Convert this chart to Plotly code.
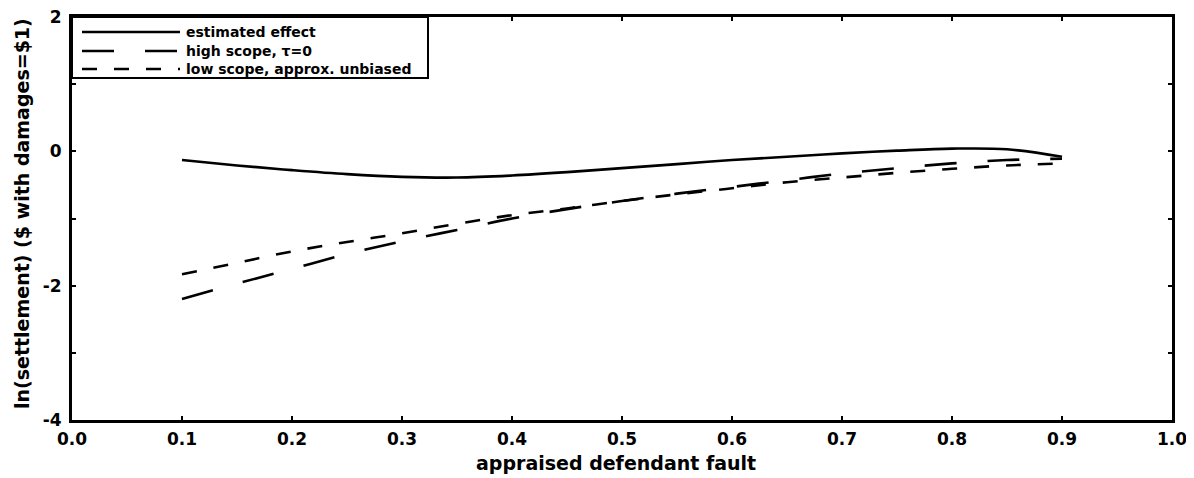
import plotly.graph_objects as go

fault = [0.10, 0.15, 0.20, 0.25, 0.30, 0.35, 0.40, 0.45, 0.50, 0.55, 0.60, 0.65, 0.70, 0.75, 0.80, 0.85, 0.90]
estimated_effect = [-0.13, -0.21, -0.28, -0.34, -0.38, -0.39, -0.36, -0.31, -0.25, -0.19, -0.13, -0.08, -0.03, 0.01, 0.04, 0.03, -0.08]
high_scope = [-2.20, -1.97, -1.75, -1.53, -1.34, -1.17, -1.00, -0.86, -0.74, -0.63, -0.53, -0.43, -0.33, -0.25, -0.18, -0.13, -0.11]
low_scope = [-1.83, -1.66, -1.49, -1.35, -1.22, -1.08, -0.95, -0.85, -0.74, -0.64, -0.55, -0.46, -0.39, -0.32, -0.26, -0.21, -0.18]

series_names = ["estimated effect", "high scope, \u03c4=0", "low scope, approx. unbiased"]
series_dash = ["solid", "32px,31px", "15px,17px"]

x_ticks = [0.0, 0.1, 0.2, 0.3, 0.4, 0.5, 0.6, 0.7, 0.8, 0.9, 1.0]
x_ticktext = ["0.0", "0.1", "0.2", "0.3", "0.4", "0.5", "0.6", "0.7", "0.8", "0.9", "1.0"]
y_ticks = [2, 1, 0, -1, -2, -3, -4]
y_ticktext = ["2", "", "0", "", "-2", "", "-4"]

x_title = "appraised defendant fault"
y_title = "ln(settlement) ($ with damages=$1)"

FONT = "DejaVu Sans"
OFF = 8  # default page body margin
W, H = 1194 - OFF, 478 - OFF
# plot area in page pixels: left 72, right 1172, top 17, bottom 420
L = 72 - OFF
T = 17 - OFF
R = W - (1172 - OFF)
B = H - (420 - OFF)
PW, PH = W - L - R, H - T - B


def px_x(px):
    return (px - OFF - L) / PW


def px_y(py):
    return (H - B - (py - OFF)) / PH


fig = go.Figure()
for name, ys, dash in zip(series_names, [estimated_effect, high_scope, low_scope], series_dash):
    fig.add_trace(go.Scatter(x=fault, y=ys, mode="lines", name=name, showlegend=False,
                             line=dict(color="black", width=2.6, dash=dash, shape="spline")))

# legend drawn manually (box, sample lines, labels)
shapes = [dict(type="rect", xref="paper", yref="paper",
               x0=px_x(72), x1=px_x(428), y0=px_y(78), y1=px_y(17),
               line=dict(color="black", width=2), fillcolor="white", layer="above")]
annotations = []
row_y = [32, 51, 69]
for name, dash, ry in zip(series_names, series_dash, row_y):
    shapes.append(dict(type="line", xref="paper", yref="paper",
                       x0=px_x(82), x1=px_x(180), y0=px_y(ry), y1=px_y(ry),
                       line=dict(color="black", width=2.4, dash=dash), layer="above"))
    annotations.append(dict(xref="paper", yref="paper", x=px_x(184), y=px_y(ry),
                            xanchor="left", yanchor="middle", showarrow=False,
                            text=name, font=dict(family=FONT, size=14, color="black", weight="bold")))

annotations.append(dict(xref="paper", yref="paper", x=px_x(616), y=px_y(463),
                        xanchor="center", yanchor="middle", showarrow=False, text=x_title,
                        font=dict(family=FONT, size=19, color="black", weight="bold")))
annotations.append(dict(xref="paper", yref="paper", x=px_x(22), y=px_y(214),
                        xanchor="center", yanchor="middle", showarrow=False, text=y_title,
                        textangle=-90,
                        font=dict(family=FONT, size=19, color="black", weight="bold")))

fig.update_layout(
    width=W, height=H,
    margin=dict(l=L, r=R, t=T, b=B),
    paper_bgcolor="white", plot_bgcolor="white",
    font=dict(family=FONT, color="black", size=16),
    showlegend=False,
    shapes=shapes,
    annotations=annotations,
)
fig.update_xaxes(
    range=[0, 1], tickvals=x_ticks, ticktext=x_ticktext, automargin=False,
    showline=True, linecolor="black", linewidth=3, mirror="ticks",
    ticks="inside", ticklen=4, tickwidth=1.5, tickcolor="black", ticklabelstandoff=2,
    ticklabeloverflow="allow",
    showgrid=False, zeroline=False,
    tickfont=dict(family=FONT, size=17, color="black", weight="bold"),
)
fig.update_yaxes(
    range=[-4, 2], tickvals=y_ticks, ticktext=y_ticktext, automargin=False,
    showline=True, linecolor="black", linewidth=3, mirror="ticks",
    ticks="inside", ticklen=4, tickwidth=1.5, tickcolor="black", ticklabelstandoff=4,
    ticklabeloverflow="allow",
    showgrid=False, zeroline=False,
    tickfont=dict(family=FONT, size=17, color="black", weight="bold"),
)

fig.write_html("out.html")
